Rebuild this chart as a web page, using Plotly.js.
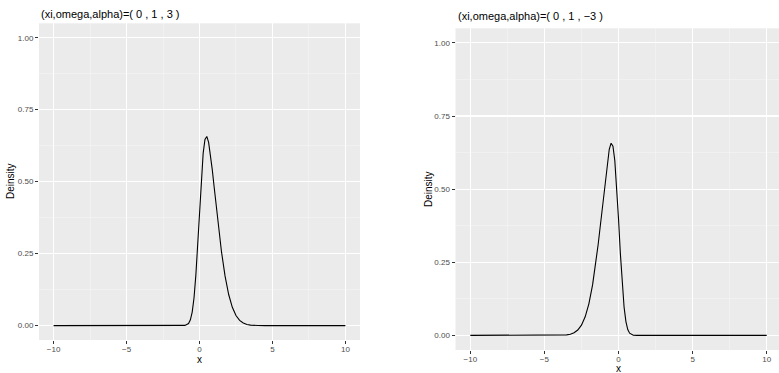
<!DOCTYPE html>
<html>
<head>
<meta charset="utf-8">
<script src="https://cdn.plot.ly/plotly-3.0.1.min.js"></script>
<style>html,body{margin:0;padding:0;background:#fff;}#chart{width:779px;height:373px;}</style>
</head>
<body>
<div id="chart"></div>
<script>
// Panel 1: (xi, omega, alpha) = (0, 1, 3)
var x1 = [-10, -2, -1.5, -1.25, -1, -0.75, -0.625, -0.5, -0.375, -0.25, -0.125, 0, 0.125, 0.25, 0.375, 0.5, 0.625, 0.75, 0.875, 1, 1.125, 1.25, 1.375, 1.5, 1.75, 2, 2.25, 2.5, 2.75, 3, 3.25, 3.5, 4, 4.5, 10];
var y1 = [0, 0, 0, 0.00001, 0.00065, 0.00736, 0.01995, 0.04704, 0.09690, 0.17526, 0.28012, 0.39894, 0.51156, 0.59808, 0.64682, 0.65710, 0.63637, 0.59492, 0.54176, 0.48329, 0.42360, 0.36527, 0.31003, 0.25904, 0.17256, 0.10798, 0.06348, 0.03506, 0.01818, 0.00886, 0.00406, 0.00175, 0.00027, 0.00003, 0];
// Panel 2: (xi, omega, alpha) = (0, 1, -3)
var x2 = [-10, -4.5, -4, -3.5, -3.25, -3, -2.75, -2.5, -2.25, -2, -1.75, -1.5, -1.375, -1.25, -1.125, -1, -0.875, -0.75, -0.625, -0.5, -0.375, -0.25, -0.125, 0, 0.125, 0.25, 0.375, 0.5, 0.625, 0.75, 1, 1.25, 1.5, 2, 10];
var y2 = [0, 0.00003, 0.00027, 0.00175, 0.00406, 0.00886, 0.01818, 0.03506, 0.06348, 0.10798, 0.17256, 0.25904, 0.31003, 0.36527, 0.42360, 0.48329, 0.54176, 0.59492, 0.63637, 0.65710, 0.64682, 0.59808, 0.51156, 0.39894, 0.28012, 0.17526, 0.09690, 0.04704, 0.01995, 0.00736, 0.00065, 0.00001, 0, 0, 0];

var titles = ["(xi,omega,alpha)=( 0 , 1 , 3 )", "(xi,omega,alpha)=( 0 , 1 , \u22123 )"];
var xTickVals = [-10, -5, 0, 5, 10];
var xTickText = ["\u221210", "\u22125", "0", "5", "10"];
var yTickVals = [0, 0.25, 0.5, 0.75, 1];
var yTickText = ["0.00", "0.25", "0.50", "0.75", "1.00"];
var xLabel = "x";
var yLabel = "Deinsity";

var W = 779, H = 373;
function fx(px) { return px / W; }
function fy(py) { return 1 - py / H; }

var FONT = "Liberation Sans, Arial, sans-serif";
var lineStyle = {color: "#000000", width: 1.1};
var traces = [
  {x: x1, y: y1, type: "scatter", mode: "lines", line: lineStyle, xaxis: "x", yaxis: "y", hoverinfo: "skip", showlegend: false},
  {x: x2, y: y2, type: "scatter", mode: "lines", line: lineStyle, xaxis: "x2", yaxis: "y2", hoverinfo: "skip", showlegend: false}
];

function xax(domain, range, anchor) {
  return {
    domain: domain, range: range, anchor: anchor,
    tickmode: "array", tickvals: xTickVals, ticktext: xTickText,
    ticks: "outside", ticklen: 3, tickwidth: 1, tickcolor: "#333333",
    ticklabelstandoff: -2,
    tickfont: {family: FONT, size: 8, color: "#4d4d4d"},
    showgrid: true, gridcolor: "#ffffff", gridwidth: 1.1,
    minor: {tickmode: "array", tickvals: [-7.5, -2.5, 2.5, 7.5], showgrid: true, gridcolor: "#f5f5f5", gridwidth: 0.6, ticks: ""},
    zeroline: false, showline: false, fixedrange: true
  };
}
function yax(domain, anchor) {
  return {
    domain: domain, range: [-0.05, 1.05], anchor: anchor,
    tickmode: "array", tickvals: yTickVals, ticktext: yTickText,
    ticks: "outside", ticklen: 3, tickwidth: 1, tickcolor: "#333333",
    tickfont: {family: FONT, size: 8, color: "#4d4d4d"},
    showgrid: true, gridcolor: "#ffffff", gridwidth: 1.1,
    minor: {tickmode: "array", tickvals: [0.125, 0.375, 0.625, 0.875], showgrid: true, gridcolor: "#f5f5f5", gridwidth: 0.6, ticks: ""},
    zeroline: false, showline: false, fixedrange: true
  };
}

var layout = {
  width: W, height: H,
  margin: {l: 0, r: 0, t: 0, b: 0},
  paper_bgcolor: "#ffffff",
  plot_bgcolor: "#ebebeb",
  xaxis: xax([fx(39), fx(360)], [-11, 11], "y"),
  yaxis: yax([fy(340), fy(23.3)], "x"),
  xaxis2: xax([fx(455.5), 1], [-11, 10.83], "y2"),
  yaxis2: yax([fy(350), fy(28.3)], "x2"),
  annotations: [
    {text: titles[0], xref: "paper", yref: "paper", x: fx(39), y: fy(14), xanchor: "left", yanchor: "middle", showarrow: false,
     font: {family: FONT, size: 11, color: "#000000"}},
    {text: titles[1], xref: "paper", yref: "paper", x: fx(455.5), y: fy(16), xanchor: "left", yanchor: "middle", showarrow: false,
     font: {family: FONT, size: 11, color: "#000000"}},
    {text: xLabel, xref: "paper", yref: "paper", x: fx(199.5), y: fy(359), xanchor: "center", yanchor: "middle", showarrow: false,
     font: {family: FONT, size: 10, color: "#000000"}},
    {text: xLabel, xref: "paper", yref: "paper", x: fx(618.3), y: fy(368), xanchor: "center", yanchor: "middle", showarrow: false,
     font: {family: FONT, size: 10, color: "#000000"}},
    {text: yLabel, xref: "paper", yref: "paper", x: fx(10), y: fy(181), xanchor: "center", yanchor: "middle", showarrow: false, textangle: -90,
     font: {family: FONT, size: 10, color: "#000000"}},
    {text: yLabel, xref: "paper", yref: "paper", x: fx(428), y: fy(189), xanchor: "center", yanchor: "middle", showarrow: false, textangle: -90,
     font: {family: FONT, size: 10, color: "#000000"}}
  ]
};

Plotly.newPlot("chart", traces, layout, {staticPlot: true, displayModeBar: false});
</script>
</body>
</html>
